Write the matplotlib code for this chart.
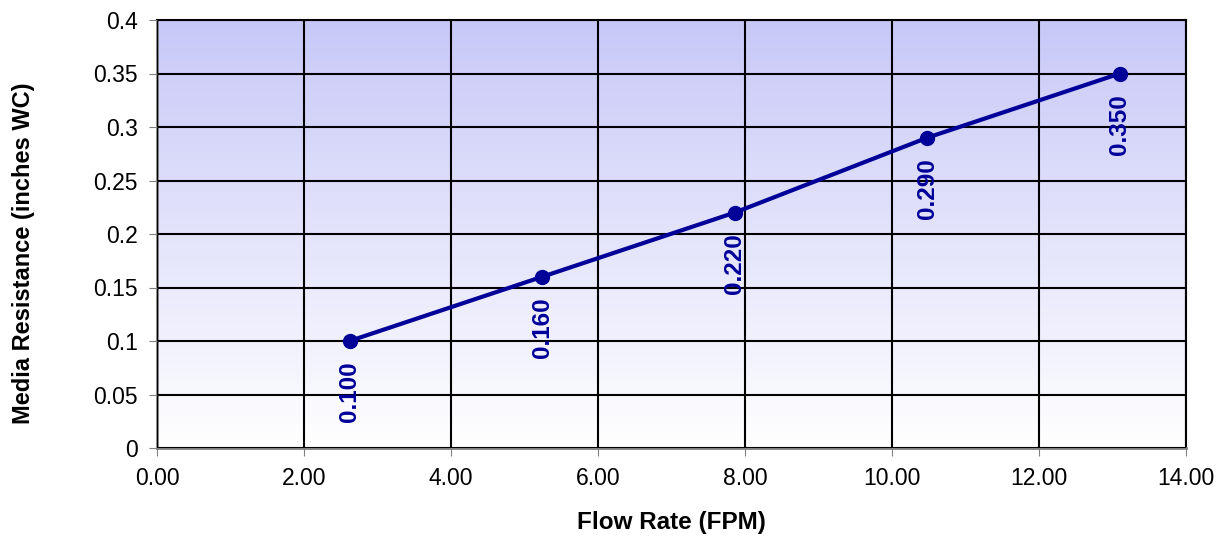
import matplotlib
matplotlib.use("Agg")
import matplotlib.pyplot as plt
import numpy as np
from matplotlib.colors import LinearSegmentedColormap

flow_rate = [2.62, 5.24, 7.86, 10.48, 13.10]
resistance = [0.100, 0.160, 0.220, 0.290, 0.350]
x_ticks = [0, 2, 4, 6, 8, 10, 12, 14]
y_ticks = [0, 0.05, 0.1, 0.15, 0.2, 0.25, 0.3, 0.35, 0.4]
y_labels = ["0", "0.05", "0.1", "0.15", "0.2", "0.25", "0.3", "0.35", "0.4"]

NAVY = "#000099"
plt.rcParams["font.family"] = ["Liberation Sans", "DejaVu Sans"]

fig = plt.figure(figsize=(12.23, 5.38), dpi=100)
ax = fig.add_axes([157 / 1223, 1 - 448 / 538, (1186 - 157) / 1223, (448 - 20) / 538])

# gradient background, pale at bottom to lavender at top
cmap = LinearSegmentedColormap.from_list("bg", ["#ffffff", "#c8c8f8"])
grad = np.linspace(0, 1, 256).reshape(-1, 1)
ax.imshow(grad, cmap=cmap, aspect="auto", origin="lower",
          extent=[0, 14, 0, 0.4], zorder=0)

ax.plot(flow_rate, resistance, color=NAVY, lw=3, marker="o", ms=10, zorder=3)
for x, y in zip(flow_rate, resistance):
    ax.annotate(f"{y:.3f}", (x, y), xytext=(0, -15), textcoords="offset points",
                rotation=90, ha="center", va="top", fontsize=17.5,
                fontweight="bold", color=NAVY, zorder=4)

ax.set_xlim(0, 14)
ax.set_ylim(0, 0.4)
ax.set_xticks(x_ticks)
ax.set_xticklabels([f"{v:.2f}" for v in x_ticks])
ax.set_yticks(y_ticks)
ax.set_yticklabels(y_labels)
ax.tick_params(direction="out", length=6, color="#808080", labelsize=16.5, pad=8)
ax.grid(True, color="black", lw=1.5, zorder=1)
ax.set_axisbelow(False)

for s in ("left", "bottom"):
    ax.spines[s].set_color("#808080")
    ax.spines[s].set_linewidth(2)
for s in ("top", "right"):
    ax.spines[s].set_color("black")
    ax.spines[s].set_linewidth(1.5)

ax.set_xlabel("Flow Rate (FPM)", fontsize=17.5, fontweight="bold")
ax.set_ylabel("Media Resistance (inches WC)", fontsize=17, fontweight="bold")
ax.xaxis.set_label_coords(0.5, -0.147)
ax.yaxis.set_label_coords(-0.119, 0.456)

fig.savefig("out.png", dpi=100)
